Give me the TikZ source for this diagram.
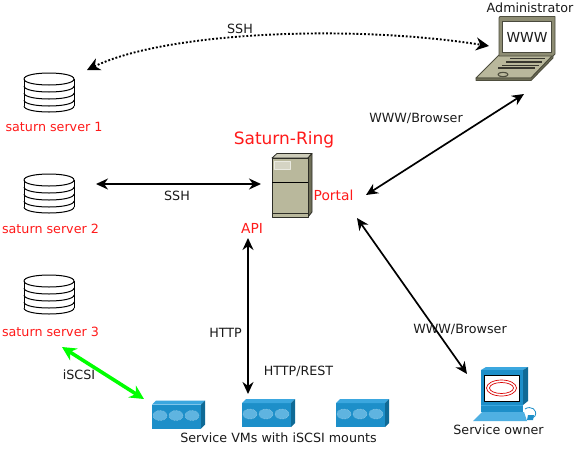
\documentclass[tikz,border=0pt]{standalone}
\usepackage{fontspec}
\setmainfont{DejaVu Sans}
\usetikzlibrary{arrows.meta}
\definecolor{srv}{HTML}{B9B89C}
\definecolor{srvd}{HTML}{6F6F58}
\definecolor{swf}{HTML}{1D8FC9}
\definecolor{swt}{HTML}{3BA7DF}
\definecolor{sws}{HTML}{0F6A96}
\definecolor{swl}{HTML}{5FB4E0}
\definecolor{redtxt}{HTML}{FF1A1A}
\definecolor{txt}{HTML}{1A1A1A}
\definecolor{puregreen}{RGB}{0,255,0}
\tikzset{
  lab/.style={font=\fontsize{12.7}{14}\selectfont,text=txt,inner sep=0pt},
  redlab/.style={font=\fontsize{12.7}{14}\selectfont,text=redtxt,inner sep=0pt},
  biglab/.style={font=\fontsize{17}{19}\selectfont,text=redtxt,inner sep=0pt},
  midlab/.style={font=\fontsize{13.8}{16}\selectfont,text=redtxt,inner sep=0pt},
  icon/.style={inner sep=0pt,minimum size=0pt},
  link/.style={{Stealth[length=12pt,width=11pt]}-{Stealth[length=12pt,width=11pt]},line width=1.7pt,black},
  dotlink/.style={{Stealth[length=13pt,width=13pt]}-{Stealth[length=13pt,width=13pt]},line width=1.9pt,black,dash pattern=on 1.9pt off 1.9pt},
  greenlink/.style={{Stealth[length=14pt,width=14pt]}-{Stealth[length=14pt,width=14pt]},line width=3.6pt,puregreen}
}
\newcommand{\dbicon}[2]{%
  \begin{scope}[shift={(#1,#2)},line width=1pt,black]
    \draw (-25,6) .. controls (-25,-2) and (25,-2) .. (25,6);
    \draw (-25,6) -- (-25,33) (25,6) -- (25,33);
    \foreach \yy in {6,13,20,27,33}{\draw (-25,\yy) .. controls (-25,\yy+8) and (25,\yy+8) .. (25,\yy);}
  \end{scope}}
\newcommand{\swicon}[2]{%
  \begin{scope}[shift={(#1,#2)}]
    \fill[swf] (0,4) rectangle (49,28);
    \fill[swt] (0,4) -- (4,0) -- (53,0) -- (49,4) -- cycle;
    \fill[sws] (49,4) -- (53,0) -- (53,24) -- (49,28) -- cycle;
    \foreach \xx in {8,24,40}{\fill[swl] (\xx,15) ellipse[x radius=7,y radius=5];
      \draw[white!60!swf,line width=0.5pt,densely dotted] (\xx,15) ellipse[x radius=7,y radius=5];}
  \end{scope}}
\begin{document}
\begin{tikzpicture}[x=1pt,y=-1pt]
\useasboundingbox (0,0) rectangle (576,448);
\fill[white] (0,0) rectangle (576,448);

% servers
\dbicon{49}{73}\dbicon{49}{174}\dbicon{49}{275}
\node[icon] (s1) at (49,92) {};
\node[icon] (s2) at (49,193) {};
\node[icon] (s3) at (49,294) {};
\node[redlab] (s1l) at (54,126.5) {saturn server 1};
\node[redlab] (s2l) at (50.5,229) {saturn server 2};
\node[redlab] (s3l) at (50.5,331.5) {saturn server 3};

% portal server
\begin{scope}[draw=black!75!srv,line width=0.8pt,line join=round]
  \filldraw[fill=srv!70!white] (272,158) -- (277,153.5) -- (312,153.5) -- (308,158) -- cycle;
  \filldraw[fill=srvd] (308,158) -- (312,153.5) -- (312,212) -- (308,217) -- cycle;
  \filldraw[fill=srv] (272,158) rectangle (308,217);
  \draw (272,213) -- (308,213);
  \draw[black,line width=1pt] (272,182) -- (308,182);
  \filldraw[fill=srv!60!white,draw=white!70!srv] (274.5,161.5) rectangle (290.5,169);
\end{scope}
\node[icon] (srvn) at (290,185) {};
\node[biglab] (ring) at (284,140) {Saturn-Ring};
\node[midlab] (portal) at (333.5,195) {Portal};
\node[midlab] (api) at (252,228) {API};

% laptop
\begin{scope}[line width=0.9pt,line join=round,draw=srvd!70!black]
  \filldraw[fill=srv] (476,78) -- (499,55) -- (553,55) -- (531,78) -- cycle;
  \filldraw[fill=srvd] (476,78) -- (476,80.5) -- (531,80.5) -- (553,58) -- (553,55) -- (531,78) -- cycle;
  \filldraw[fill=srvd!60!srv] (500,16.5) -- (555,16.5) -- (555,54) -- (553,56) -- (499,56) -- (499,18) -- cycle;
  \filldraw[fill=white,draw=black!60!srv] (502,21) rectangle (551,52);
  \draw[line width=1.2pt,black!70!srv] (510,58.5) -- (545,58.5) (506,62) -- (542,62) (502,65.5) -- (539,65.5) (498,68) -- (535,68);
  \draw[line width=1.1pt] (503,74.5) ellipse[x radius=5,y radius=2.2];
\end{scope}
\node[midlab,text=txt] (www) at (527,37) {WWW};
\node[icon] (lap) at (516,40) {};
\node[lab] (admin) at (530,7.5) {Administrator};

% switches
\swicon{152}{400.5}\swicon{242}{399}\swicon{336}{399}
\node[icon] (vm1) at (177,414) {};
\node[icon] (vm2) at (267,413) {};
\node[icon] (vm3) at (361,413) {};
\node[lab] (vms) at (278.5,437.5) {Service VMs with iSCSI mounts};

% service owner
\begin{scope}[line join=round]
  \fill[swt] (481,370) -- (486,367) -- (528,367) -- (523,370) -- cycle;
  \fill[sws] (523,370) -- (528,367) -- (528,401) -- (523,405) -- cycle;
  \fill[swf] (481,370) rectangle (523,412);
  \fill[swt] (481,405) rectangle (523,406);
  \filldraw[fill=white,draw=black,line width=0.8pt] (484.5,375.5) rectangle (519.5,401);
  \draw[red!85!black,line width=0.7pt] (501.5,388) ellipse[x radius=15,y radius=8];
  \draw[red!85!black,line width=0.7pt] (501.5,388) ellipse[x radius=12,y radius=5.5];
  \fill[swt!90!white] (473,421) -- (482,412) -- (524,412) -- (527,421) -- cycle;
  \fill[swf] (528,415) -- (534,415) -- (533,420) -- (527,420) -- cycle;
  \draw[swf,line width=0.8pt] (525,409) .. controls (531,405) and (538,410) .. (535,416) .. controls (534,418) and (532,418) .. (530,417);
\end{scope}
\node[icon] (own) at (500,392) {};
\node[lab] (ownl) at (498.5,429.5) {Service owner};

% anchors
\coordinate (a1) at (87,70);   \coordinate (a2) at (489,46);
\coordinate (b1) at (96,184);  \coordinate (b2) at (261,184);
\coordinate (c1) at (248,238); \coordinate (c2) at (248,394);
\coordinate (d1) at (366,195); \coordinate (d2) at (524,94);
\coordinate (e1) at (357,218); \coordinate (e2) at (467,374);
\coordinate (f1) at (62,347);  \coordinate (f2) at (144,399);

% connectors
\draw[dotlink] (a1) .. controls (165,32) and (350,24) .. (a2);
\draw[link] (b1) -- (b2);
\draw[link] (c1) -- (c2);
\draw[link] (d1) -- (d2);
\draw[link] (e1) -- (e2);
\draw[greenlink] (f1) -- (f2);

% labels
\node[lab] (l1) at (240,28.5) {SSH};
\node[lab] (l2) at (177,196) {SSH};
\node[lab] (l3) at (416,118.5) {WWW/Browser};
\node[lab] (l4) at (460,329.5) {WWW/Browser};
\node[lab] (l5) at (225.5,332.5) {HTTP};
\node[lab] (l6) at (298.5,371.5) {HTTP/REST};
\node[lab] (l7) at (79,375) {iSCSI};
\end{tikzpicture}
\end{document}
